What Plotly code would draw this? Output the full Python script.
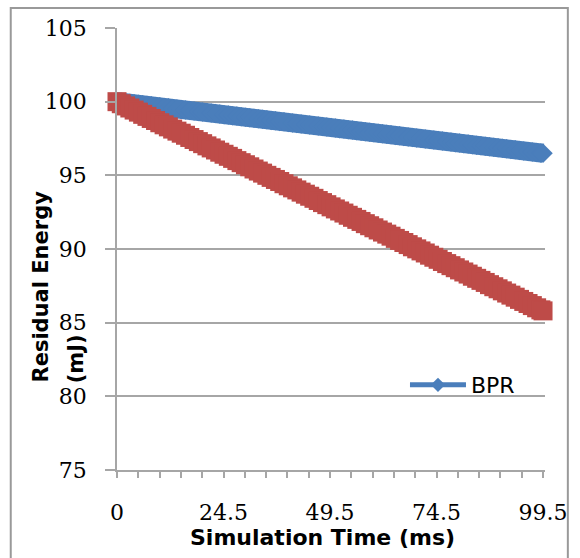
import plotly.graph_objects as go

# Simulation time (ms)
time_ms = [0, 1, 2, 3, 4, 5, 6, 7, 8, 9, 10, 11, 12, 13, 14, 15, 16, 17, 18, 19,
           20, 21, 22, 23, 24, 25, 26, 27, 28, 29, 30, 31, 32, 33, 34, 35, 36, 37, 38, 39,
           40, 41, 42, 43, 44, 45, 46, 47, 48, 49, 50, 51, 52, 53, 54, 55, 56, 57, 58, 59,
           60, 61, 62, 63, 64, 65, 66, 67, 68, 69, 70, 71, 72, 73, 74, 75, 76, 77, 78, 79,
           80, 81, 82, 83, 84, 85, 86, 87, 88, 89, 90, 91, 92, 93, 94, 95, 96, 97, 98, 99, 99.5]

# Residual energy (mJ) - BPR (blue)
bpr = [100.00, 99.96, 99.93, 99.89, 99.86, 99.82, 99.79, 99.75, 99.72, 99.68,
       99.65, 99.61, 99.58, 99.54, 99.51, 99.47, 99.44, 99.40, 99.37, 99.33,
       99.30, 99.26, 99.23, 99.19, 99.16, 99.12, 99.09, 99.05, 99.02, 98.98,
       98.94, 98.91, 98.87, 98.84, 98.80, 98.77, 98.73, 98.70, 98.66, 98.63,
       98.59, 98.56, 98.52, 98.49, 98.45, 98.42, 98.38, 98.35, 98.31, 98.28,
       98.24, 98.21, 98.17, 98.14, 98.10, 98.07, 98.03, 97.99, 97.96, 97.92,
       97.89, 97.85, 97.82, 97.78, 97.75, 97.71, 97.68, 97.64, 97.61, 97.57,
       97.54, 97.50, 97.47, 97.43, 97.40, 97.36, 97.33, 97.29, 97.26, 97.22,
       97.19, 97.15, 97.12, 97.08, 97.05, 97.01, 96.97, 96.94, 96.90, 96.87,
       96.83, 96.80, 96.76, 96.73, 96.69, 96.66, 96.62, 96.59, 96.55, 96.52, 96.50]

# Residual energy (mJ) - second series (red, not in legend)
other = [100.00, 99.86, 99.71, 99.57, 99.43, 99.29, 99.14, 99.00, 98.86, 98.72,
         98.57, 98.43, 98.29, 98.14, 98.00, 97.86, 97.72, 97.57, 97.43, 97.29,
         97.15, 97.00, 96.86, 96.72, 96.57, 96.43, 96.29, 96.15, 96.00, 95.86,
         95.72, 95.58, 95.43, 95.29, 95.15, 95.00, 94.86, 94.72, 94.58, 94.43,
         94.29, 94.15, 94.01, 93.86, 93.72, 93.58, 93.44, 93.29, 93.15, 93.01,
         92.86, 92.72, 92.58, 92.44, 92.29, 92.15, 92.01, 91.87, 91.72, 91.58,
         91.44, 91.29, 91.15, 91.01, 90.87, 90.72, 90.58, 90.44, 90.30, 90.15,
         90.01, 89.87, 89.73, 89.58, 89.44, 89.30, 89.15, 89.01, 88.87, 88.73,
         88.58, 88.44, 88.30, 88.15, 88.01, 87.87, 87.73, 87.58, 87.44, 87.30,
         87.16, 87.01, 86.87, 86.73, 86.58, 86.44, 86.30, 86.16, 86.01, 85.87, 85.80]

# X axis tick marks (21 category ticks) and their labels
x_tick_vals = [0, 4.975, 9.95, 14.925, 19.9, 24.875, 29.85, 34.825, 39.8, 44.775,
               49.75, 54.725, 59.7, 64.675, 69.65, 74.625, 79.6, 84.575, 89.55, 94.525, 99.5]
x_tick_text = ["0", "", "", "", "", "24.5", "", "", "", "",
               "49.5", "", "", "", "", "74.5", "", "", "", "", "99.5"]
y_tick_vals = [75, 80, 85, 90, 95, 100, 105]

BLUE = "#4a7ebb"
RED = "#be4b48"
GRID = "#a6a6a6"

fig = go.Figure()
fig.add_trace(go.Scatter(
    x=time_ms, y=bpr, mode="lines+markers", name="BPR", showlegend=False,
    line=dict(color=BLUE, width=19),
    marker=dict(symbol="diamond", size=15, color=BLUE, line=dict(width=0)),
    cliponaxis=False,
))
fig.add_trace(go.Scatter(
    x=time_ms, y=other, mode="lines+markers", name="", showlegend=False,
    line=dict(color=RED, width=4),
    marker=dict(symbol="square", size=19, color=RED, line=dict(width=0)),
    cliponaxis=False,
))
# legend entry
fig.add_trace(go.Scatter(
    x=[None], y=[None], mode="lines+markers", name="BPR",
    line=dict(color=BLUE, width=5),
    marker=dict(symbol="diamond", size=11, color=BLUE, line=dict(width=0)),
))

fig.update_layout(
    width=580, height=558,
    margin=dict(l=117, r=32, t=28, b=88),
    paper_bgcolor="white", plot_bgcolor="white",
    showlegend=True,
    legend=dict(x=(407 - 117) / 431, y=(470 - 385) / 442, xanchor="left", yanchor="middle",
                bgcolor="rgba(0,0,0,0)", font=dict(family="DejaVu Sans", size=22, color="black"),
                itemwidth=56),
    xaxis=dict(
        range=[0, 99.96], tickmode="array", tickvals=x_tick_vals, ticktext=x_tick_text,
        ticks="outside", ticklen=6, tickcolor=GRID, tickwidth=1.5,
        showgrid=False, zeroline=False,
        showline=True, linecolor=GRID, linewidth=1.5,
        tickfont=dict(family="DejaVu Serif", size=22, color="black"),
        ticklabelstandoff=16,
    ),
    yaxis=dict(
        range=[75, 105], tickmode="array", tickvals=y_tick_vals,
        ticks="outside", ticklen=10, tickcolor=GRID, tickwidth=1.5,
        showgrid=True, gridcolor=GRID, gridwidth=1.5, zeroline=False,
        showline=True, linecolor=GRID, linewidth=1.5,
        tickfont=dict(family="DejaVu Serif", size=22, color="black"),
        ticklabelstandoff=14,
    ),
    annotations=[
        dict(text="Residual Energy", x=(40 - 117) / 431, y=(470 - 287) / 442,
             xref="paper", yref="paper", showarrow=False, textangle=-90,
             xanchor="center", yanchor="middle",
             font=dict(family="DejaVu Sans", size=21, color="black", weight="bold")),
        dict(text="(mJ)", x=(76 - 117) / 431, y=(470 - 359) / 442,
             xref="paper", yref="paper", showarrow=False, textangle=-90,
             xanchor="center", yanchor="middle",
             font=dict(family="DejaVu Sans", size=21, color="black", weight="bold")),
        dict(text="Simulation Time (ms)", x=(324 - 117) / 431, y=(470 - 537) / 442,
             xref="paper", yref="paper", showarrow=False,
             xanchor="center", yanchor="middle",
             font=dict(family="DejaVu Sans", size=22, color="black", weight="bold")),
    ],
    shapes=[
        dict(type="rect", xref="paper", yref="paper",
             x0=(10 - 117) / 431, x1=(571 - 117) / 431,
             y0=(470 - 575) / 442, y1=(470 - 8) / 442,
             line=dict(color="#999999", width=2), fillcolor="rgba(0,0,0,0)", layer="below"),
    ],
)

fig.write_html("out.html")
